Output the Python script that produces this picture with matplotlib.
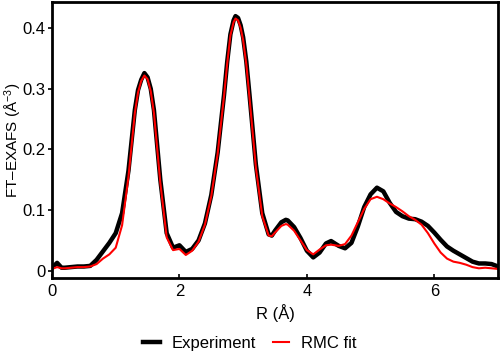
import numpy as np
import matplotlib
matplotlib.use("Agg")
import matplotlib.pyplot as plt

plt.rcParams['font.family'] = ['Liberation Sans', 'DejaVu Sans']
plt.rcParams['mathtext.fontset'] = 'custom'
plt.rcParams['mathtext.rm'] = 'Liberation Sans'
plt.rcParams['mathtext.it'] = 'Liberation Sans:italic'

# R grid (Angstrom)
r = [0.0, 0.08, 0.15, 0.2, 0.3, 0.4, 0.5, 0.6, 0.7, 0.8, 0.9, 1.0, 1.1, 1.2, 1.3, 1.35,
     1.4, 1.45, 1.5, 1.55, 1.6, 1.7, 1.8, 1.9, 2.0, 2.1, 2.2, 2.3, 2.4, 2.5, 2.6, 2.7,
     2.75, 2.8, 2.85, 2.88, 2.92, 2.96, 3.0, 3.05, 3.1, 3.2, 3.3, 3.4, 3.45, 3.5, 3.6,
     3.67, 3.7, 3.8, 3.9, 4.0, 4.1, 4.2, 4.3, 4.38, 4.5, 4.6, 4.7, 4.8, 4.9, 5.0, 5.1,
     5.2, 5.3, 5.4, 5.5, 5.6, 5.7, 5.8, 5.9, 6.0, 6.1, 6.2, 6.3, 6.4, 6.5, 6.6, 6.7,
     6.8, 6.9, 7.0]

experiment = [0.005, 0.013, 0.005, 0.005, 0.006, 0.007, 0.007, 0.008, 0.018, 0.032,
              0.046, 0.062, 0.095, 0.165, 0.265, 0.298,
              0.315, 0.326, 0.319, 0.3, 0.265, 0.15, 0.062, 0.038, 0.042, 0.031, 0.036,
              0.05, 0.078, 0.125, 0.195, 0.29,
              0.345, 0.39, 0.413, 0.42, 0.417, 0.405, 0.385, 0.345, 0.29, 0.175, 0.095,
              0.06, 0.058, 0.066, 0.08,
              0.084, 0.083, 0.072, 0.054, 0.033, 0.022, 0.03, 0.045, 0.049, 0.041, 0.037,
              0.046, 0.073, 0.105, 0.126, 0.137,
              0.131, 0.112, 0.097, 0.09, 0.086, 0.085, 0.081, 0.074, 0.063, 0.051, 0.04,
              0.033, 0.027, 0.021, 0.015, 0.012,
              0.012, 0.011, 0.007]

rmc_fit = [0.003, 0.006, 0.004, 0.004, 0.005, 0.006, 0.006, 0.007, 0.011, 0.02,
           0.027, 0.038, 0.075, 0.155, 0.26, 0.294,
           0.313, 0.322, 0.316, 0.296, 0.26, 0.145, 0.055, 0.034, 0.036, 0.026, 0.033,
           0.048, 0.076, 0.123, 0.193, 0.288,
           0.342, 0.388, 0.41, 0.416, 0.413, 0.401, 0.38, 0.34, 0.285, 0.17, 0.09,
           0.058, 0.057, 0.063, 0.074,
           0.077, 0.076, 0.066, 0.05, 0.034, 0.027, 0.035, 0.042, 0.043, 0.041, 0.044,
           0.058, 0.08, 0.102, 0.118, 0.122,
           0.118, 0.111, 0.105, 0.098, 0.09, 0.084, 0.076, 0.062, 0.045, 0.03, 0.02,
           0.015, 0.013, 0.01, 0.006, 0.004,
           0.005, 0.004, 0.003]

yticks = [0, 0.1, 0.2, 0.3, 0.4]
ytick_labels = ['0', '0.1', '0.2', '0.3', '0.4']
xticks = [0, 2, 4, 6]

fig = plt.figure(figsize=(5, 3.62), dpi=100)
ax = fig.add_axes([0.104, 0.232, 0.892, 0.762])

ax.plot(r, experiment, color='black', lw=3.2, label='Experiment', solid_joinstyle='round')
ax.plot(r, rmc_fit, color='red', lw=1.5, label='RMC fit', solid_joinstyle='round')

ax.set_xlim(0, 7)
ax.set_ylim(-0.012, 0.443)
ax.set_xticks(xticks)
ax.set_yticks(yticks)
ax.set_yticklabels(ytick_labels)
ax.tick_params(axis='y', direction='out', length=3, width=1.2, labelsize=12, pad=1.5,
               right=False)
ax.tick_params(axis='x', direction='in', length=3, width=1.2, labelsize=12, pad=4,
               top=False)
for s in ax.spines.values():
    s.set_linewidth(2)

ax.set_xlabel('R (Å)', fontsize=12, labelpad=4)
ax.set_ylabel('FT–EXAFS (Å$^{-3}$)', fontsize=11)
ax.yaxis.set_label_coords(-0.062, 0.5)

fig.legend(loc='center', bbox_to_anchor=(0.5, 0.052), ncol=2, frameon=False,
           fontsize=12, handlelength=1.0, columnspacing=1.0, handletextpad=0.7)

fig.savefig('out.png', dpi=100)
